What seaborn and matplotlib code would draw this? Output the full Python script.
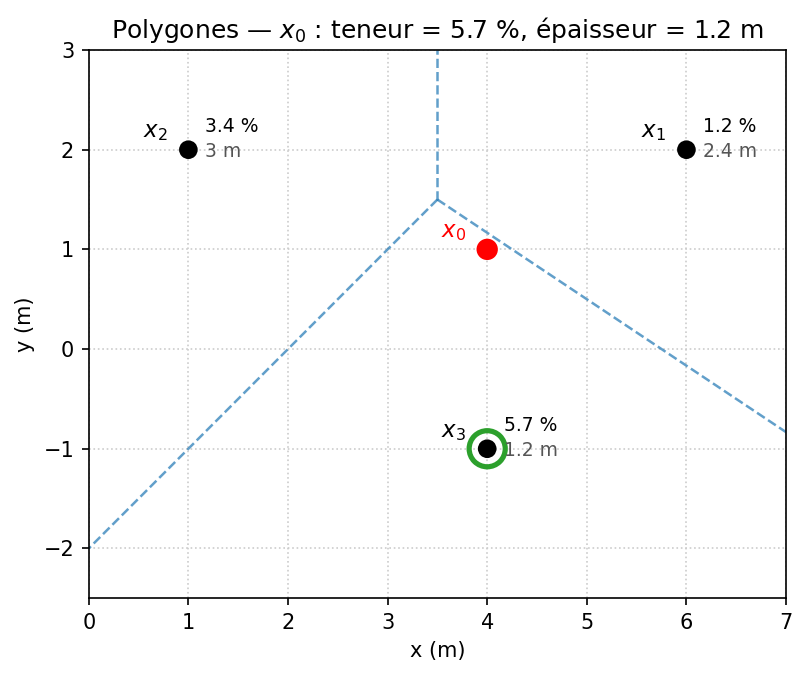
import numpy as np
import pandas as pd
import matplotlib
matplotlib.use("Agg")
import matplotlib.pyplot as plt
import seaborn as sns

# data
names = ["$x_1$", "$x_2$", "$x_3$"]
xs = [6, 1, 4]
ys = [2, 2, -1]
grades = ["1.2 %", "3.4 %", "5.7 %"]
thick = ["2.4 m", "3 m", "1.2 m"]
x0 = (4, 1)

# voronoi edges (bisectors), meeting at a vertex
vertex = (3.5, 1.5)
edge_ends = [(3.5, 3.0), (0.0, -2.0), (7.0, -0.8333)]

sns.set_style("ticks", {
    "axes.edgecolor": "black",
    "text.color": "black",
    "axes.labelcolor": "black",
    "xtick.color": "black",
    "ytick.color": "black",
})
plt.rcParams["font.family"] = ["DejaVu Sans"]

fig = plt.figure(figsize=(807 / 150, 676 / 150), dpi=150)
ax = fig.add_axes([0.110, 0.115, 0.864, 0.811])

for ex, ey in edge_ends:
    ax.plot([vertex[0], ex], [vertex[1], ey], ls="--", color="#1f77b4",
            alpha=0.7, lw=1.2, zorder=2)

df = pd.DataFrame({"x": xs, "y": ys})
sns.scatterplot(data=df, x="x", y="y", color="black", s=80,
                edgecolor="none", ax=ax, zorder=4)
sns.scatterplot(x=[x0[0]], y=[x0[1]], color="red", s=105,
                edgecolor="none", ax=ax, zorder=4)
# nearest sample highlighted
ax.scatter([xs[2]], [ys[2]], s=300, facecolors="none",
           edgecolors="#2ca02c", linewidths=2.5, zorder=3)

for n, px, py, g, t in zip(names, xs, ys, grades, thick):
    ax.annotate(n, (px, py), xytext=(-16, 8.5), textcoords="offset points",
                ha="center", va="center", fontsize=11)
    ax.annotate(g, (px, py), xytext=(8, 11), textcoords="offset points",
                ha="left", va="center", fontsize=9)
    ax.annotate(t, (px, py), xytext=(8, -1), textcoords="offset points",
                ha="left", va="center", fontsize=9, color="#555555")

ax.annotate("$x_0$", x0, xytext=(-16, 8.5), textcoords="offset points",
            ha="center", va="center", fontsize=11, color="red")

ax.set_xlim(0, 7)
ax.set_ylim(-2.5, 3)
ax.grid(True, ls=":", color="#cccccc", lw=0.8)
ax.set_xlabel("x (m)")
ax.set_ylabel("y (m)")
ax.set_title("Polygones — $x_0$ : teneur = 5.7 %, épaisseur = 1.2 m", fontsize=12)

fig.savefig("out.png", dpi=150)
